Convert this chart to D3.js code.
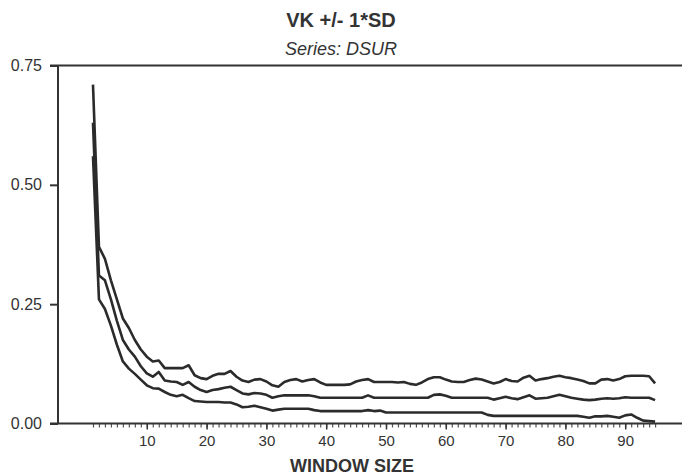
<!DOCTYPE html>
<html>
<head>
<meta charset="utf-8">
<script src="https://cdn.jsdelivr.net/npm/d3@7/dist/d3.min.js"></script>
<style>
  html, body { margin: 0; padding: 0; background: #fff; }
  svg { display: block; font-family: "Liberation Sans", Arial, Helvetica, sans-serif; }
</style>
</head>
<body>
<svg id="chart" width="682" height="475"></svg>
<script>
// Window sizes 1..95
const windowSizes = [
  1,2,3,4,5,6,7,8,9,10,11,12,13,14,15,16,17,18,19,20,
  21,22,23,24,25,26,27,28,29,30,31,32,33,34,35,36,37,38,39,40,
  41,42,43,44,45,46,47,48,49,50,51,52,53,54,55,56,57,58,59,60,
  61,62,63,64,65,66,67,68,69,70,71,72,73,74,75,76,77,78,79,80,
  81,82,83,84,85,86,87,88,89,90,91,92,93,94,95
];

// VK + 1*SD
const vkPlusSD = [
  0.71,0.37,0.345,0.30,0.26,0.22,0.20,0.175,0.155,0.14,
  0.13,0.132,0.116,0.116,0.116,0.116,0.122,0.101,0.095,0.093,
  0.100,0.104,0.104,0.110,0.098,0.090,0.087,0.092,0.093,0.088,
  0.080,0.077,0.087,0.091,0.093,0.088,0.091,0.093,0.086,0.081,
  0.081,0.081,0.081,0.082,0.088,0.091,0.093,0.087,0.087,0.087,
  0.087,0.086,0.087,0.083,0.081,0.086,0.093,0.097,0.097,0.092,
  0.088,0.087,0.087,0.091,0.094,0.092,0.088,0.084,0.087,0.093,
  0.089,0.088,0.096,0.100,0.090,0.093,0.095,0.098,0.100,0.097,
  0.095,0.092,0.089,0.084,0.084,0.092,0.093,0.090,0.093,0.099,
  0.100,0.100,0.100,0.099,0.084
];

// VK (mean)
const vkMean = [
  0.63,0.31,0.30,0.26,0.215,0.175,0.155,0.14,0.12,0.105,
  0.098,0.108,0.090,0.088,0.087,0.081,0.087,0.077,0.070,0.066,
  0.070,0.072,0.075,0.077,0.070,0.063,0.061,0.064,0.063,0.060,
  0.054,0.057,0.059,0.059,0.059,0.059,0.059,0.057,0.054,0.054,
  0.054,0.054,0.054,0.054,0.054,0.054,0.059,0.054,0.054,0.054,
  0.054,0.054,0.054,0.054,0.054,0.054,0.054,0.060,0.061,0.058,
  0.054,0.054,0.054,0.054,0.054,0.054,0.054,0.050,0.053,0.056,
  0.053,0.051,0.055,0.059,0.052,0.053,0.054,0.057,0.060,0.057,
  0.054,0.052,0.050,0.049,0.050,0.052,0.053,0.052,0.053,0.055,
  0.054,0.054,0.054,0.054,0.049
];

// VK - 1*SD
const vkMinusSD = [
  0.56,0.26,0.24,0.205,0.165,0.13,0.115,0.104,0.092,0.080,
  0.074,0.073,0.066,0.060,0.057,0.060,0.053,0.047,0.046,0.045,
  0.045,0.045,0.044,0.044,0.040,0.034,0.035,0.037,0.034,0.031,
  0.027,0.029,0.031,0.031,0.031,0.031,0.031,0.028,0.026,0.026,
  0.026,0.026,0.026,0.026,0.026,0.026,0.028,0.026,0.027,0.023,
  0.023,0.023,0.023,0.023,0.023,0.023,0.023,0.023,0.023,0.023,
  0.023,0.023,0.023,0.023,0.023,0.023,0.018,0.016,0.016,0.016,
  0.016,0.016,0.016,0.016,0.016,0.016,0.016,0.016,0.016,0.016,
  0.016,0.016,0.014,0.012,0.015,0.015,0.016,0.014,0.012,0.017,
  0.019,0.012,0.006,0.005,0.004
];

const yTicks = [0, 0.25, 0.5, 0.75];
const yTickLabels = ["0.00", "0.25", "0.50", "0.75"];
const xTicks = [10, 20, 30, 40, 50, 60, 70, 80, 90];

const title = "VK +/- 1*SD";
const subtitle = "Series: DSUR";
const xTitle = "WINDOW SIZE";

const ink = "#333";
const svg = d3.select("#chart");

const x = d3.scaleLinear().domain([0, 100]).range([87, 685]);
const y = d3.scaleLinear().domain([0, 0.75]).range([423.5, 65.5]);

// Titles
svg.append("text").attr("x", 341).attr("y", 27).attr("text-anchor", "middle")
  .attr("font-size", 20).attr("font-weight", "bold").attr("fill", ink).text(title);
svg.append("text").attr("x", 341).attr("y", 55).attr("text-anchor", "middle")
  .attr("font-size", 18).attr("font-style", "italic").attr("fill", ink).text(subtitle);

// Frame: top rule and left axis line
svg.append("line").attr("x1", 50).attr("x2", 682).attr("y1", y(0.75)).attr("y2", y(0.75))
  .attr("stroke", ink).attr("stroke-width", 2);

// Y axis
const yAxis = d3.axisLeft(y).tickValues(yTicks)
  .tickFormat((d, i) => yTickLabels[i]).tickSize(8).tickPadding(8);
const gy = svg.append("g").attr("transform", "translate(58,0)").call(yAxis);
gy.select(".domain").attr("stroke", ink).attr("stroke-width", 2)
  .attr("d", `M0,${y(0.75)}V${y(0)}`);
gy.selectAll(".tick line").attr("stroke", ink).attr("stroke-width", 2);
gy.selectAll(".tick text").attr("font-size", 16).attr("fill", ink)
  .attr("font-family", "Liberation Sans, Arial, sans-serif");

// X axis: minor ticks at every window size
const xMinor = d3.axisBottom(x).tickValues(windowSizes).tickSize(4).tickFormat("");
const gxm = svg.append("g").attr("transform", `translate(0,${y(0)})`).call(xMinor);
gxm.select(".domain").remove();
gxm.selectAll(".tick line").attr("stroke", "#555").attr("stroke-width", 1.2);

const xAxis = d3.axisBottom(x).tickValues(xTicks).tickSize(6).tickPadding(6)
  .tickFormat(d3.format("d"));
const gx = svg.append("g").attr("transform", `translate(0,${y(0)})`).call(xAxis);
gx.select(".domain").attr("stroke", ink).attr("stroke-width", 2)
  .attr("d", "M50,0H682");
gx.selectAll(".tick line").attr("stroke", ink).attr("stroke-width", 1.5);
gx.selectAll(".tick text").attr("font-size", 15).attr("fill", ink)
  .attr("font-family", "Liberation Sans, Arial, sans-serif");

svg.append("text").attr("x", 352).attr("y", 472).attr("text-anchor", "middle")
  .attr("font-size", 18).attr("font-weight", "bold").attr("fill", ink).text(xTitle);

// Series lines
const line = d3.line().x((d, i) => x(windowSizes[i])).y(d => y(d));
[vkPlusSD, vkMean, vkMinusSD].forEach(series => {
  svg.append("path").datum(series).attr("d", line)
    .attr("fill", "none").attr("stroke", "#2b2b2b")
    .attr("stroke-width", 2.6).attr("stroke-linejoin", "round");
});
</script>
</body>
</html>
